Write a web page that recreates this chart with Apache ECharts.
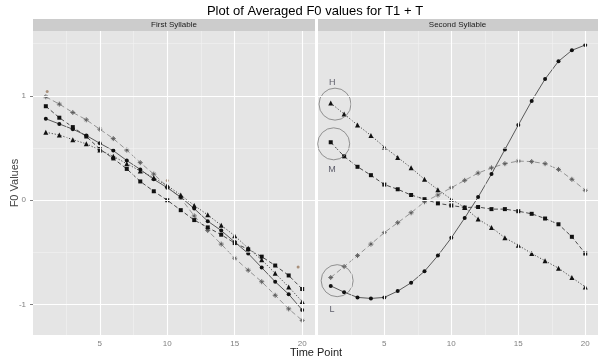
<!DOCTYPE html>
<html><head><meta charset="utf-8">
<script src="https://cdn.jsdelivr.net/npm/echarts@6/dist/echarts.min.js"></script>
<style>html,body{margin:0;padding:0;background:#fff}#c{width:598px;height:363px}</style>
</head><body><div id="c"></div>
<script>
// ---- data ----
const timePoints = [1,2,3,4,5,6,7,8,9,10,11,12,13,14,15,16,17,18,19,20];
const xTicks = [5,10,15,20];
const yTicks = [-1,0,1];
const xMinor = [2.5,7.5,12.5,17.5];
const yMinor = [-0.5,0.5,1.5];
const panelNames = ['First Syllable','Second Syllable'];
const chartTitle = 'Plot of Averaged F0 values for T1 + T';
const xName = 'Time Point';
const yName = 'F0 Values';

const firstH = [0.65,0.625,0.58,0.54,0.48,0.42,0.35,0.28,0.216,0.14,0.05,-0.05,-0.14,-0.24,-0.34,-0.46,-0.57,-0.70,-0.83,-0.97];
const firstM = [0.90,0.79,0.70,0.61,0.49,0.40,0.30,0.18,0.086,0.0,-0.095,-0.19,-0.26,-0.33,-0.41,-0.47,-0.54,-0.625,-0.72,-0.85];
const firstL = [0.78,0.73,0.68,0.62,0.545,0.475,0.38,0.295,0.20,0.12,0.03,-0.08,-0.20,-0.29,-0.40,-0.51,-0.645,-0.78,-0.90,-1.05];
const firstR = [0.99,0.92,0.84,0.77,0.68,0.59,0.48,0.36,0.25,0.13,0.02,-0.15,-0.29,-0.42,-0.555,-0.67,-0.78,-0.91,-1.04,-1.15];

const secondH = [0.93,0.825,0.72,0.62,0.51,0.41,0.31,0.20,0.10,0.01,-0.07,-0.18,-0.26,-0.36,-0.43,-0.51,-0.58,-0.65,-0.74,-0.83];
const secondM = [0.555,0.42,0.32,0.24,0.15,0.105,0.05,0.01,-0.03,-0.05,-0.07,-0.065,-0.085,-0.085,-0.105,-0.13,-0.175,-0.23,-0.35,-0.51];
const secondL = [-0.82,-0.88,-0.93,-0.94,-0.93,-0.87,-0.79,-0.68,-0.53,-0.36,-0.17,0.03,0.25,0.485,0.72,0.95,1.16,1.33,1.435,1.486];
const secondR = [-0.74,-0.635,-0.53,-0.42,-0.31,-0.215,-0.12,-0.015,0.05,0.12,0.19,0.26,0.31,0.35,0.375,0.37,0.35,0.295,0.20,0.095];

const strayT = [1.1,10.0,19.7];
const strayV = [1.04,0.19,-0.64];

const ringLabels = ['H','M','L'];
const ringT = [1.32,1.22,1.48];
const ringV = [0.92,0.54,-0.77];
const ringLabelT = [1.11,1.09,1.09];
const ringLabelV = [1.13,0.295,-1.05];

// ---- layout ----
const FONT = 'Liberation Sans, Arial, sans-serif';
const gridTop = 31, gridH = 304;
const grids = [{left:33, top:gridTop, width:282, height:gridH}, {left:318, top:gridTop, width:281, height:gridH}];
const xMin = 0.05, xMax = 20.95, yMin = -1.29, yMax = 1.62;

const asterisk = 'path://M5,0L5,10M0,5L10,5M2,2L8,8M8,2L2,8';
const styles = {
  H: {symbol:'triangle', size:5, line:'#3a3a3a', dash:[1.2,1.8], sym:'#111'},
  M: {symbol:'rect', size:4, line:'#3a3a3a', dash:[4,2.5], sym:'#111'},
  L: {symbol:'circle', size:4, line:'#4a4a4a', dash:'solid', sym:'#111'},
  R: {symbol:asterisk, size:5, line:'#8a8a8a', dash:[5,3], sym:'#5a5a5a'}
};

function pairs(vals){ return timePoints.map((t,i)=>[t, vals[i]]); }
function lineSeries(key, vals, idx){
  const s = styles[key];
  const isR = key==='R';
  return {
    type:'line', xAxisIndex:idx, yAxisIndex:idx, data:pairs(vals), z:3,
    symbol:s.symbol, symbolSize:s.size, showSymbol:true, animation:false, silent:true,
    lineStyle:{color:s.line, width:0.9, type:s.dash},
    itemStyle: isR ? {color:'transparent', borderColor:s.sym, borderWidth:0.9} : {color:s.sym, borderWidth:0}
  };
}
function gridLines(idx){
  const data = [];
  xMinor.forEach(v=>data.push({xAxis:v, lineStyle:{color:'#F2F2F2', width:0.6, type:'solid'}}));
  yMinor.forEach(v=>data.push({yAxis:v, lineStyle:{color:'#F2F2F2', width:0.6, type:'solid'}}));
  xTicks.forEach(v=>data.push({xAxis:v, lineStyle:{color:'#FFFFFF', width:1.1, type:'solid'}}));
  yTicks.forEach(v=>data.push({yAxis:v, lineStyle:{color:'#FFFFFF', width:1.1, type:'solid'}}));
  return {type:'line', xAxisIndex:idx, yAxisIndex:idx, data:[], z:1, silent:true, animation:false,
    markLine:{silent:true, symbol:['none','none'], label:{show:false}, animation:false, data:data}};
}

const xAxes = [0,1].map(i=>({
  type:'value', gridIndex:i, min:xMin, max:xMax,
  axisLine:{show:false}, splitLine:{show:false},
  axisTick:{show:true, customValues:xTicks, length:3, lineStyle:{color:'#7f7f7f', width:1}},
  axisLabel:{show:true, customValues:xTicks, color:'#7f7f7f', fontSize:8, fontFamily:FONT, margin:5}
}));
const yAxes = [0,1].map(i=>({
  type:'value', gridIndex:i, min:yMin, max:yMax,
  axisLine:{show:false}, splitLine:{show:false},
  axisTick:{show:i===0, customValues:yTicks, length:3, lineStyle:{color:'#7f7f7f', width:1}},
  axisLabel:{show:i===0, customValues:yTicks, color:'#7f7f7f', fontSize:8, fontFamily:FONT, margin:7}
}));

const series = [gridLines(0), gridLines(1),
  lineSeries('R', firstR, 0), lineSeries('M', firstM, 0), lineSeries('L', firstL, 0), lineSeries('H', firstH, 0),
  lineSeries('R', secondR, 1), lineSeries('M', secondM, 1), lineSeries('L', secondL, 1), lineSeries('H', secondH, 1),
  {type:'scatter', xAxisIndex:0, yAxisIndex:0, z:4, silent:true, animation:false, symbol:'circle', symbolSize:3,
   itemStyle:{color:'#9a7a60'}, data:strayT.map((t,i)=>[t, strayV[i]])},
  {type:'scatter', xAxisIndex:1, yAxisIndex:1, z:4, silent:true, animation:false, symbol:'circle', symbolSize:32,
   itemStyle:{color:'transparent', borderColor:'#7a7a7a', borderWidth:1}, data:ringT.map((t,i)=>[t, ringV[i]])},
  {type:'scatter', xAxisIndex:1, yAxisIndex:1, z:4, silent:true, animation:false, symbolSize:1,
   itemStyle:{color:'transparent'},
   label:{show:true, position:'inside', formatter:p=>p.name, color:'#3a3a4a', fontSize:9, fontFamily:FONT},
   data:ringLabels.map((n,i)=>({name:n, value:[ringLabelT[i], ringLabelV[i]]}))}
];

const graphic = [];
grids.forEach((g,i)=>{
  graphic.push({type:'rect', silent:true, shape:{x:g.left, y:19, width:g.width, height:12}, style:{fill:'#CCCCCC'}, z:0});
  graphic.push({type:'text', silent:true, x:g.left+g.width/2 - (i===1?1:0), y:25, style:{text:panelNames[i], font:'8px '+FONT, fill:'#1a1a1a', textAlign:'center', textVerticalAlign:'middle'}});
});
graphic.push({type:'text', silent:true, x:315, y:11, style:{text:chartTitle, font:'13px '+FONT, fill:'#000', textAlign:'center', textVerticalAlign:'middle'}});
graphic.push({type:'text', silent:true, x:316, y:353, style:{text:xName, font:'11px '+FONT, fill:'#222', textAlign:'center', textVerticalAlign:'middle'}});
graphic.push({type:'text', silent:true, x:14.5, y:183, rotation:Math.PI/2, style:{text:yName, font:'11px '+FONT, fill:'#444', textAlign:'center', textVerticalAlign:'middle'}});

const chart = echarts.init(document.getElementById('c'), null, {renderer:'canvas'});
chart.setOption({
  animation:false,
  backgroundColor:'#ffffff',
  grid: grids.map(g=>Object.assign({show:true, backgroundColor:'#E5E5E5', borderWidth:0, containLabel:false}, g)),
  xAxis:xAxes, yAxis:yAxes, series:series, graphic:graphic
});
</script></body></html>
